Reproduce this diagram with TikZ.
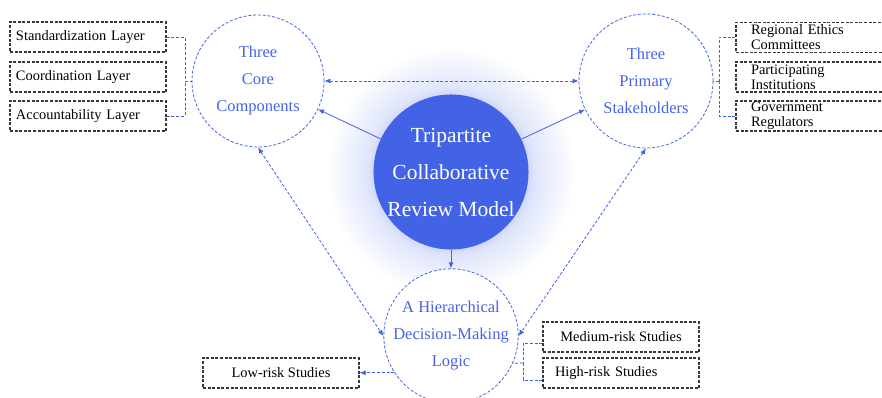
\documentclass[tikz,border=0pt]{standalone}
\usepackage{fontspec}
\setmainfont{Liberation Serif}
\usetikzlibrary{arrows.meta,calc}

\definecolor{mblue}{RGB}{66,99,230}
\definecolor{tblue}{RGB}{70,100,232}
\definecolor{boxgray}{RGB}{55,55,55}
\definecolor{glowin}{RGB}{196,206,247}
\definecolor{glowmid}{RGB}{224,230,251}

% soft halo behind the central circle (path radius <-> 25bp)
\pgfdeclareradialshading{cglow}{\pgfpoint{0bp}{0bp}}{%
  color(0bp)=(glowin); color(14.2bp)=(glowin); color(17bp)=(glowmid); color(25bp)=(white); color(50bp)=(white)}

\tikzset{
  layerbox/.style={draw=boxgray, line width=1.1pt, dash pattern=on 3pt off 1.6pt,
    minimum height=30pt, inner ysep=0pt, font=\fontsize{14.4}{15}\selectfont, text=black},
  ringnode/.style={circle, draw=tblue, line width=0.8pt, dash pattern=on 3pt off 1.8pt,
    fill=white, inner sep=0pt, align=center, text=tblue, font=\fontsize{16.5}{27}\selectfont},
  hubnode/.style={circle, fill=mblue, inner sep=0pt, align=center, text=white,
    minimum size=144pt, font=\fontsize{21.5}{37}\selectfont},
  solidarrow/.style={draw=mblue, line width=0.8pt, -{Latex[length=6pt,width=5pt]}},
  dasharrow/.style={draw=mblue, line width=0.8pt, dash pattern=on 3pt off 1.8pt,
    -{Latex[length=6pt,width=5pt]}},
  dualarrow/.style={dasharrow, {Latex[length=6pt,width=5pt]}-{Latex[length=6pt,width=5pt]}},
  bracket/.style={draw=mblue, line width=0.8pt, dash pattern=on 3pt off 1.8pt},
}

\begin{document}
\begin{tikzpicture}[x=1pt, y=-1pt]
\useasboundingbox (0,0) rectangle (882,398);
\clip (0,0) rectangle (882,398);
\fill[white] (0,0) rectangle (882,398);

% halo
\shade[shading=cglow] (451,172) circle (125);

% circles
\node[hubnode] (cc) at (451,172) {Tripartite\\Collaborative\\Review Model};
\node[ringnode, minimum size=132pt] (lc) at (258,81) {Three\\Core\\Components};
\node[ringnode, minimum size=134pt] (rc) at (646,81) {Three\\Primary\\Stakeholders};
\node[ringnode, minimum size=132pt] (bc) at (451,336) {A Hierarchical\\Decision-Making\\Logic};

% left boxes
\foreach \nm/\yy/\tx in {s1/37/Standardization Layer, s2/77/Coordination Layer, s3/116/Accountability Layer}
  \node[layerbox, inner xsep=6pt, text width=144pt, align=left] (\nm) at (88,\yy) {\tx};

% right boxes (run past the right edge)
\node[layerbox, inner xsep=15pt, text width=124pt, align=left] (r1) at (813,37.5) {Regional Ethics\\Committees};
\node[layerbox, inner xsep=15pt, text width=124pt, align=left] (r2) at (813,77) {Participating\\Institutions};
\node[layerbox, inner xsep=15pt, text width=124pt, align=left] (r3) at (813,116) {Government\\Regulators};

% risk boxes
\node[layerbox, minimum width=156pt, align=center] (med) at (621,337) {Medium-risk Studies};
\node[layerbox, inner xsep=12pt, text width=132pt, align=left] (high) at (621,373) {High-risk Studies};
\node[layerbox, minimum width=156pt, align=center] (low) at (281,373) {Low-risk Studies};

% brackets
\coordinate (lbr) at (185,81);
\draw[bracket] (s1.east) -| (lbr);
\draw[bracket] (s3.east) -| (lbr);
\draw[bracket] (lbr) -- (lc.west);

\coordinate (rbr) at (719,81);
\draw[bracket] (r1.west) -| (rbr);
\draw[bracket] (r3.west) -| (rbr);
\draw[bracket] (rbr) -- (rc.east);

\coordinate (bbr) at (523,363);
\draw[bracket] ($(med.west)+(0,6)$) -| (bbr);
\draw[bracket] ($(high.west)+(0,7)$) -| (bbr);
\draw[bracket] (bbr) -- (bc.-24);

% connectors
\draw[solidarrow] (cc) -- (lc);
\draw[solidarrow] (cc) -- (rc);
\draw[solidarrow] (cc.south) -- (bc.north);
\draw[dualarrow] (lc.east) -- (rc.west);
\draw[dualarrow] (lc.south) -- (bc.west);
\draw[dualarrow] (rc.south) -- (bc.east);
\draw[dasharrow] (bc.213) -- (bc.213 -| low.east);
\end{tikzpicture}
\end{document}
